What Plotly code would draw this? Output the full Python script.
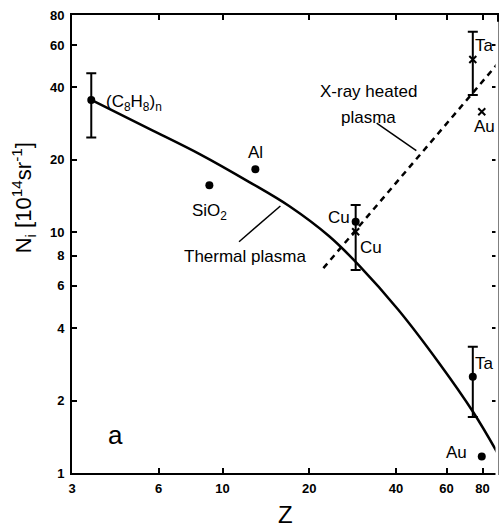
import math
import plotly.graph_objects as go

# ---------------- data ----------------
# thermal-plasma measurements (dots); None = no error bar
dot_labels = ["(C8H8)n", "SiO2", "Al", "Cu", "Ta", "Au"]
dot_z = [3.5, 9.0, 13.0, 29.0, 74.0, 79.5]
dot_n = [35.5, 15.7, 18.3, 11.07, 2.51, 1.17]
dot_err_plus = [10.3, None, None, 1.91, 0.84, None]
dot_err_minus = [10.7, None, None, 4.10, 0.80, None]

# X-ray heated plasma measurements (crosses)
x_labels = ["Cu", "Ta", "Au"]
x_z = [29.0, 74.0, 79.5]
x_n = [10.06, 52.3, 31.7]
x_err_plus = [None, 15.8, None]
x_err_minus = [None, 15.1, None]

# thermal plasma curve
curve_z = [3.5, 5.59, 8.33, 12.39, 17.03, 23.41, 29.72, 40.84, 56.15, 74.2, 89.8]
curve_n = [35.5, 26.87, 21.15, 16.18, 12.86, 9.65, 7.31, 4.755, 2.892, 1.792, 1.222]

# X-ray heated plasma line
xray_z = [22.4, 90.0]
xray_n = [7.1, 50.0]

# leader lines of the labels
thermal_lead_z = [11.41, 15.88]
thermal_lead_n = [9.14, 12.86]
xray_lead_z = [34.3, 47.1]
xray_lead_n = [28.4, 21.83]

x_ticks = [3, 6, 10, 20, 40, 60, 80]
y_ticks = [1, 2, 4, 6, 8, 10, 20, 40, 60, 80]

FONT = "Arial, Liberation Sans, sans-serif"
lg = math.log10

fig = go.Figure()

fig.add_trace(go.Scatter(x=curve_z, y=curve_n, mode="lines",
                         line=dict(color="black", width=2.5, shape="spline", smoothing=1.0),
                         hoverinfo="skip"))
fig.add_trace(go.Scatter(x=xray_z, y=xray_n, mode="lines",
                         line=dict(color="black", width=2.5, dash="6px,5px"), hoverinfo="skip"))
for lz, ln in [(thermal_lead_z, thermal_lead_n), (xray_lead_z, xray_lead_n)]:
    fig.add_trace(go.Scatter(x=lz, y=ln, mode="lines",
                             line=dict(color="black", width=1.5), hoverinfo="skip"))


def points(zs, ns, names, ep, em, marker):
    with_err = [i for i in range(len(zs)) if ep[i] is not None]
    without = [i for i in range(len(zs)) if ep[i] is None]
    fig.add_trace(go.Scatter(
        x=[zs[i] for i in with_err], y=[ns[i] for i in with_err],
        text=[names[i] for i in with_err], mode="markers", marker=marker,
        error_y=dict(type="data", symmetric=False, array=[ep[i] for i in with_err],
                     arrayminus=[em[i] for i in with_err],
                     color="black", thickness=2, width=5)))
    fig.add_trace(go.Scatter(
        x=[zs[i] for i in without], y=[ns[i] for i in without],
        text=[names[i] for i in without], mode="markers", marker=marker))


points(dot_z, dot_n, dot_labels, dot_err_plus, dot_err_minus,
       dict(symbol="circle", size=8, color="black"))
points(x_z, x_n, x_labels, x_err_plus, x_err_minus,
       dict(symbol="x-thin", size=7, color="black", line=dict(width=2, color="black")))


def lab(text, z, n, size=17, xanchor="center"):
    fig.add_annotation(x=lg(z), y=lg(n), xref="x", yref="y", text=text,
                       showarrow=False, xanchor=xanchor, yanchor="middle",
                       font=dict(family=FONT, size=size, color="black"))

lab("(C<sub>8</sub>H<sub>8</sub>)<sub>n</sub>", 3.87, 34.5, xanchor="left")
lab("Al", 13.06, 21.56)
lab("SiO<sub>2</sub>", 9.0, 12.2)
lab("Thermal plasma", 12.0, 7.97)
lab("X-ray heated", 32.1, 38.3)
lab("plasma", 32.1, 30.1)
lab("Cu", 25.3, 11.57)
lab("Cu", 32.9, 8.61)
lab("Ta", 81.4, 60.0)
lab("Au", 81.4, 27.4)
lab("Ta", 81.4, 2.864)
lab("Au", 65.1, 1.222)
lab("a", 4.24, 1.438, size=26)

fig.add_annotation(x=-0.115, y=0.6, xref="paper", yref="paper",
                   text="N<sub>i</sub> [10<sup>14</sup>sr<sup>-1</sup>]", textangle=-90,
                   showarrow=False, xanchor="center", yanchor="middle",
                   font=dict(family=FONT, size=22, color="black"))
fig.add_annotation(x=0.5035, y=-0.09, xref="paper", yref="paper", text="Z",
                   showarrow=False, xanchor="center", yanchor="middle",
                   font=dict(family=FONT, size=24, color="black"))

# hide right frame line (the original is cut off there)
fig.add_shape(type="line", xref="paper", yref="paper", x0=1, x1=1, y0=-0.01, y1=0.985,
              line=dict(color="white", width=3), layer="above")

axis_common = dict(showline=True, linecolor="black", linewidth=2, mirror="ticks",
                   ticks="inside", ticklen=5, tickwidth=2, tickcolor="black",
                   showgrid=False, zeroline=False,
                   tickfont=dict(family=FONT, size=13, color="black", weight="bold"))

fig.update_xaxes(type="log", range=[lg(3), lg(89.8)], tickvals=x_ticks,
                 ticktext=[str(v) for v in x_ticks], ticklabelstandoff=2, **axis_common)
fig.update_yaxes(type="log", range=[0, lg(80)], tickvals=y_ticks,
                 ticktext=[str(v) for v in y_ticks], ticklabelstandoff=3, **axis_common)

fig.update_layout(width=499, height=528, showlegend=False,
                  margin=dict(l=72, r=0, t=15, b=55),
                  paper_bgcolor="white", plot_bgcolor="white")

fig.write_html("out.html", config={"displayModeBar": False},
               post_script="document.body.style.margin='0';document.body.style.overflow='hidden';")
